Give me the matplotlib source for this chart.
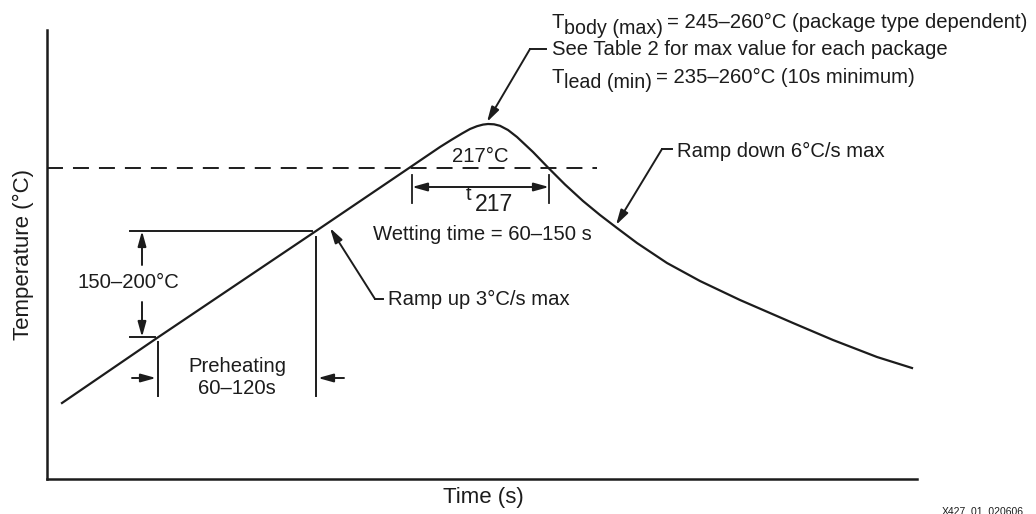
import matplotlib.pyplot as plt

plt.rcParams['font.family'] = ['Liberation Sans', 'DejaVu Sans']
plt.rcParams['lines.scale_dashes'] = False

# schematic, coordinates in drawing units (1 unit = 1 px)
profile_x = [62, 157, 316, 412, 440, 452, 462, 470, 477, 483, 488, 494, 500, 508, 517, 533,
             548, 565, 583, 600, 617, 637, 667, 700, 740, 793, 833, 877, 912]
profile_y = [403, 338, 231, 166, 147, 139.5, 133.5, 129, 126.2, 124.6, 124, 124.3, 125.8, 130, 137, 152,
             167.5, 184.5, 201, 215, 228, 243, 263, 281, 300, 323, 340, 357, 368]

liquidus_y = 168          # 217°C line
t217_x = [412, 549]
preheat_x = [158, 316]
preheat_y = [337, 231]    # 150 / 200 °C levels

ink = '#1c1c1c'
fs = 14.6

fig = plt.figure(figsize=(10.36, 5.14), dpi=100)
ax = fig.add_axes([47 / 1036, (514 - 479) / 514, 870 / 1036, 449 / 514])
ax.set_xlim(47, 917)
ax.set_ylim(479, 30)
ax.set_xticks([])
ax.set_yticks([])
for s in ['top', 'right']:
    ax.spines[s].set_visible(False)
for s in ['left', 'bottom']:
    ax.spines[s].set_linewidth(1.8)
    ax.spines[s].set_color(ink)

# profile curve
ax.plot(profile_x, profile_y, color=ink, lw=1.6, clip_on=False, solid_joinstyle='round')

# 217 °C dashed line
ax.plot([47, 597], [liquidus_y, liquidus_y], color=ink, lw=1.4, dashes=(11.5, 7.2))
ax.text(480, 157, '217°C', ha='center', va='center', fontsize=fs, color=ink)


def arrow(tip, tail, style='-|>'):
    ax.annotate('', xy=tip, xytext=tail, annotation_clip=False,
                arrowprops=dict(arrowstyle=style + ',head_length=0.9,head_width=0.25',
                                mutation_scale=10, lw=1.4, color=ink,
                                shrinkA=0, shrinkB=0))


# t217 dimension
for x in t217_x:
    ax.plot([x, x], [175, 203], color=ink, lw=1.3)
arrow((t217_x[1], 187), (t217_x[0], 187), style='<|-|>')
ax.text(466, 200, 't', ha='left', va='baseline', fontsize=fs, color=ink)
ax.text(475, 211, '217', ha='left', va='baseline', fontsize=fs + 2, color=ink)
ax.text(373, 235, 'Wetting time = 60–150 s', ha='left', va='center', fontsize=fs, color=ink)

# preheat temperature range
ax.plot([130, preheat_x[1] - 4], [preheat_y[1], preheat_y[1]], color=ink, lw=1.4)
ax.plot([130, preheat_x[0] - 3], [preheat_y[0], preheat_y[0]], color=ink, lw=1.4)
arrow((142, preheat_y[1]), (142, 265))
arrow((142, preheat_y[0]), (142, 302))
ax.text(128, 282, '150–200°C', ha='center', va='center', fontsize=fs, color=ink)

# preheat time range
ax.plot([preheat_x[0], preheat_x[0]], [342, 396], color=ink, lw=1.4)
ax.plot([preheat_x[1], preheat_x[1]], [237, 396], color=ink, lw=1.4)
arrow((preheat_x[0] - 2, 378), (132, 378))
arrow((preheat_x[1] + 2, 378), (344, 378))
ax.text(237, 367, 'Preheating', ha='center', va='center', fontsize=fs, color=ink)
ax.text(237, 388, '60–120s', ha='center', va='center', fontsize=fs, color=ink)

# ramp up
ax.plot([375, 383], [299, 299], color=ink, lw=1.4, clip_on=False)
arrow((330, 228), (375, 299))
ax.text(388, 299, 'Ramp up 3°C/s max', ha='left', va='center', fontsize=fs, color=ink)

# ramp down
ax.plot([662, 672], [149, 149], color=ink, lw=1.4, clip_on=False)
arrow((616, 225), (662, 149))
ax.text(677, 151, 'Ramp down 6°C/s max', ha='left', va='center', fontsize=fs, color=ink)

# peak
ax.plot([530, 546], [49, 49], color=ink, lw=1.4, clip_on=False)
arrow((487, 122), (530, 49))

renderer = fig.canvas.get_renderer()


def row(x, y, parts):
    for s, dy, size, gap in parts:
        t = ax.text(x, y + dy, s, ha='left', va='baseline', fontsize=size, color=ink)
        x += t.get_window_extent(renderer).width + gap


row(552, 28, [('T', 0, fs, 0), ('body (max)', 6, fs - 0.5, 4),
              ('= 245–260°C (package type dependent)', 0, fs, 0)])
ax.text(552, 55, 'See Table 2 for max value for each package', ha='left',
        va='baseline', fontsize=fs, color=ink)
row(552, 83, [('T', 0, fs, 0), ('lead (min)', 5, fs - 0.5, 4),
              ('= 235–260°C (10s minimum)', 0, fs, 0)])

# axis labels
ax.text(483, 497, 'Time (s)', ha='center', va='center', fontsize=16, color=ink)
ax.text(23, 255, 'Temperature (°C)', ha='center', va='center', rotation=90,
        fontsize=16, color=ink)
ax.text(942, 511, 'X427_01_020606', ha='left', va='center', fontsize=7.5, color=ink)

fig.savefig('out.png', dpi=100)
